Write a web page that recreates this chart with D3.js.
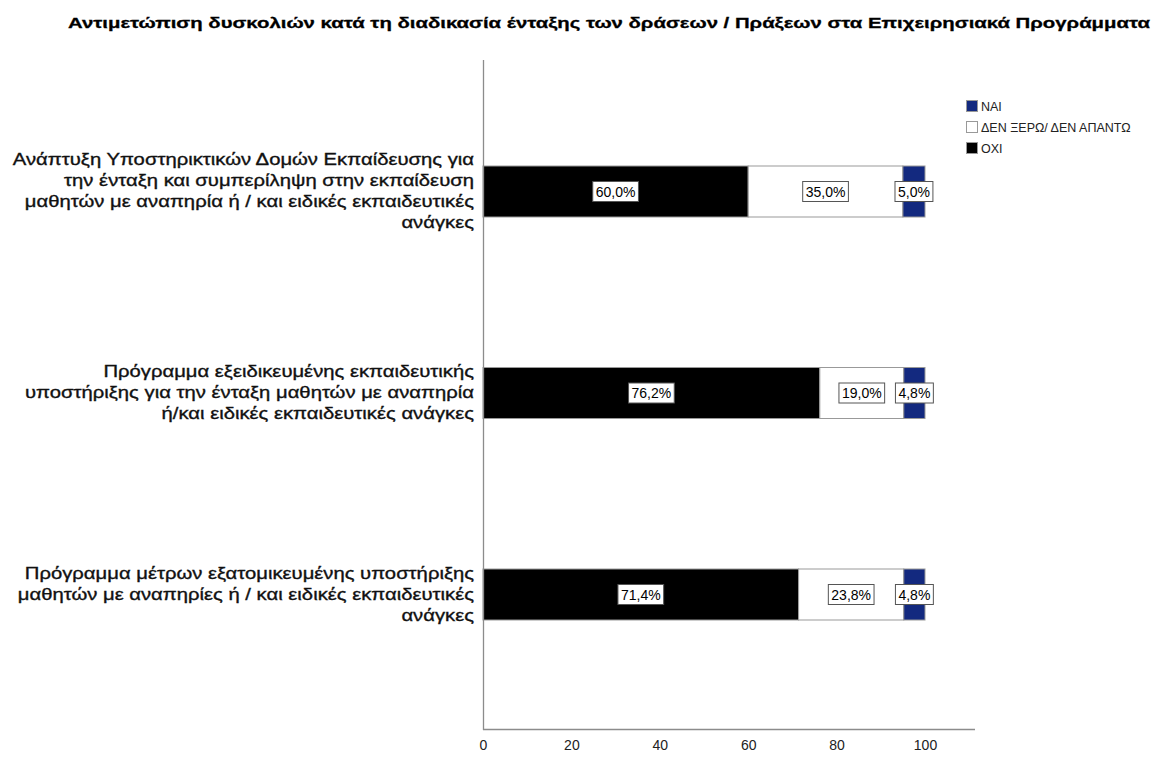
<!DOCTYPE html>
<html><head><meta charset="utf-8">
<script src="https://cdn.jsdelivr.net/npm/d3@7"></script>
<style>body{margin:0;background:#fff}svg{display:block}</style>
</head><body>
<svg id="chart" width="1169" height="758"></svg>
<script>
const title = "Αντιμετώπιση δυσκολιών κατά τη διαδικασία ένταξης των δράσεων / Πράξεων στα Επιχειρησιακά Προγράμματα";
const categories = [
  ["Ανάπτυξη Υποστηρικτικών Δομών Εκπαίδευσης για","την ένταξη και συμπερίληψη στην εκπαίδευση","μαθητών με αναπηρία ή / και ειδικές εκπαιδευτικές","ανάγκες"],
  ["Πρόγραμμα εξειδικευμένης εκπαιδευτικής","υποστήριξης για την ένταξη μαθητών με αναπηρία","ή/και ειδικές εκπαιδευτικές ανάγκες"],
  ["Πρόγραμμα μέτρων εξατομικευμένης υποστήριξης","μαθητών με αναπηρίες ή / και ειδικές εκπαιδευτικές","ανάγκες"]
];
const seriesNames = ["ΟΧΙ","ΔΕΝ ΞΕΡΩ/ ΔΕΝ ΑΠΑΝΤΩ","ΝΑΙ"];
const oxi = [60.0, 76.2, 71.4];
const denXero = [35.0, 19.0, 23.8];
const nai = [5.0, 4.8, 4.8];
const xTicks = [0,20,40,60,80,100];
const legendOrder = ["ΝΑΙ","ΔΕΝ ΞΕΡΩ/ ΔΕΝ ΑΠΑΝΤΩ","ΟΧΙ"];
const colors = {"ΟΧΙ":"#000000","ΔΕΝ ΞΕΡΩ/ ΔΕΝ ΑΠΑΝΤΩ":"#ffffff","ΝΑΙ":"#13297f"};

const svg = d3.select("#chart");
const ids = categories.map((c,i)=>"c"+i);
const x = d3.scaleLinear().domain([0,100]).range([483,925]);
const y = d3.scalePoint().domain(ids).range([191.5,594.5]);
const barH = 51;

const rows = ids.map((id,i)=>({id, "ΟΧΙ":oxi[i], "ΔΕΝ ΞΕΡΩ/ ΔΕΝ ΑΠΑΝΤΩ":denXero[i], "ΝΑΙ":nai[i]}));
const stack = d3.stack().keys(seriesNames)(rows);

// title
svg.append("text").attr("x",609).attr("y",28).attr("text-anchor","middle")
  .attr("font-family","Liberation Sans").attr("font-weight","bold").attr("font-size",15.5)
  .attr("stroke","#000").attr("stroke-width",0.3)
  .attr("textLength",1082).attr("lengthAdjust","spacingAndGlyphs")
  .attr("fill","#000").text(title);

// bars
const g = svg.append("g");
stack.forEach(s=>{
  g.selectAll(null).data(s).enter().append("rect")
    .attr("x",d=>x(d[0])).attr("width",d=>x(d[1])-x(d[0]))
    .attr("y",d=>y(d.data.id)-barH/2).attr("height",barH)
    .attr("fill",colors[s.key]).attr("stroke","#999").attr("stroke-width",1);
});

// axes
svg.append("line").attr("x1",483.5).attr("x2",483.5).attr("y1",60).attr("y2",730)
  .attr("stroke","#8c8c8c").attr("stroke-width",1.3);
const xAxis = d3.axisBottom(x).tickValues(xTicks).tickSize(0).tickPadding(11).tickFormat(d3.format("d"));
const ax = svg.append("g").attr("transform","translate(0,729.5)").call(xAxis);
ax.select(".domain").remove();
ax.append("line").attr("x1",483).attr("x2",975).attr("y1",0).attr("y2",0).attr("stroke","#8c8c8c").attr("stroke-width",1.3);
ax.selectAll("text").attr("font-family","Liberation Sans").attr("font-size",14).attr("fill","#222");

// category labels
const catFont = 17;
const probe = svg.append("text").attr("font-family","Liberation Sans").attr("font-size",catFont)
  .text(categories[1][1]);
const scaleW = 449 / probe.node().getComputedTextLength();
probe.remove();
ids.forEach((id,i)=>{
  const lines = categories[i];
  const lh = 21;
  const cy = y(id) - 1;
  lines.forEach((ln,j)=>{
    const t = svg.append("text").attr("text-anchor","end").attr("font-family","Liberation Sans")
      .attr("font-size",catFont).attr("fill","#111").attr("stroke","#111").attr("stroke-width",0.35)
      .attr("x",474).attr("y",cy + (j-(lines.length-1)/2)*lh + 6).text(ln);
    const w = t.node().getComputedTextLength();
    t.attr("textLength",w*scaleW).attr("lengthAdjust","spacingAndGlyphs");
  });
});

// value labels
const fmt = v => d3.format(".1f")(v).replace(".",",")+"%";
stack.forEach(s=>{
  s.forEach(d=>{
    const v = d[1]-d[0];
    const cx = x((d[0]+d[1])/2);
    const cy = y(d.data.id);
    const lg = svg.append("g");
    const tx = lg.append("text").attr("x",cx).attr("y",cy+5).attr("text-anchor","middle")
      .attr("font-family","Liberation Sans").attr("font-size",14).attr("fill","#000").text(fmt(v));
    const w = tx.node().getComputedTextLength();
    lg.insert("rect","text").attr("x",cx-w/2-3).attr("y",cy-10).attr("width",w+6).attr("height",20)
      .attr("fill","#fff").attr("stroke","#555").attr("stroke-width",1);
  });
});

// legend
const leg = svg.append("g").attr("transform","translate(966,100)");
legendOrder.forEach((k,i)=>{
  const gy = i*21;
  leg.append("rect").attr("x",0.5).attr("y",gy+0.5).attr("width",11).attr("height",11)
    .attr("fill",colors[k]).attr("stroke","#999");
  leg.append("text").attr("x",15).attr("y",gy+10.5).attr("font-family","Liberation Sans")
    .attr("font-size",12.5).attr("fill","#222").text(k);
});
</script>
</body></html>
